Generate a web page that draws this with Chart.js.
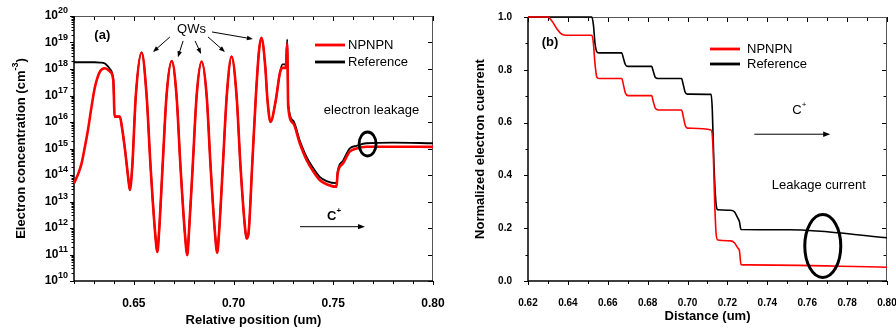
<!DOCTYPE html>
<html>
<head>
<meta charset="utf-8">
<script src="https://cdn.jsdelivr.net/npm/chart.js@4.4.0/dist/chart.umd.min.js"></script>
<style>
  html, body { margin: 0; padding: 0; background: #fff; overflow: hidden; }
  #chartA { position: absolute; left: 0; top: 0; }
  #chartB { position: absolute; left: 450px; top: 0; }
</style>
</head>
<body>
<canvas id="chartA" width="450" height="329"></canvas>
<canvas id="chartB" width="446" height="329"></canvas>
<script>
const seriesNames = ['NPNPN', 'Reference'];

// (a) electron concentration vs relative position
const posA = [0.6200, 0.6222, 0.6238, 0.6255, 0.6270, 0.6288, 0.6305, 0.6330, 0.6355, 0.6380,
  0.6397, 0.6400, 0.6403, 0.6430, 0.6440, 0.6456, 0.6473, 0.6480, 0.6492, 0.6510,
  0.6539, 0.6564, 0.6584, 0.6607, 0.6618, 0.6626, 0.6644, 0.6664, 0.6690, 0.6714,
  0.6734, 0.6756, 0.6768, 0.6776, 0.6795, 0.6815, 0.6840, 0.6865, 0.6885, 0.6907,
  0.6918, 0.6927, 0.6946, 0.6966, 0.6990, 0.7015, 0.7035, 0.7057, 0.7065, 0.7075,
  0.7093, 0.7112, 0.7128, 0.7140, 0.7159, 0.7170, 0.7185, 0.7212, 0.7232, 0.7245,
  0.7262, 0.7269, 0.7274, 0.7299, 0.7332, 0.7366, 0.7400, 0.7432, 0.7466, 0.7516,
  0.7522, 0.7549, 0.7582, 0.7616, 0.7666, 0.7800, 0.8000];
const npnpnA = [4.9e13, 1.15e14, 2.75e14, 1.2e15, 5.0e15, 3.8e16, 2.1e17, 8.0e17, 1.07e18, 8.0e17,
  3.8e17, 1.0e17, 1.6e16, 1.6e16, 6.6e15, 8.7e14, 6.5e13, 2.7e13, 2.0e14, 1.0e17,
  4.2e18, 1.0e17, 2.0e14, 6.3e11, 1.26e11, 6.3e11, 2.0e14, 1.0e17, 2.0e18, 1.0e17,
  2.0e14, 6.3e11, 9.5e10, 6.3e11, 2.0e14, 1.0e17, 1.9e18, 1.0e17, 2.0e14, 6.3e11,
  1.17e11, 6.3e11, 2.0e14, 1.0e17, 2.95e18, 1.0e17, 2.0e14, 1.12e12, 4.0e11, 6.3e11,
  2.0e14, 1.0e17, 5.2e18, 1.5e19, 1.23e18, 6.8e16, 1.0e16, 6.8e16, 6.9e17, 1.1e18,
  1.1e18, 9.3e18, 3.8e16, 8.9e15, 1.58e15, 3.7e14, 1.35e14, 6.5e13, 4.5e13, 3.6e13,
  1.15e14, 2.75e14, 7.6e14, 1.0e15, 1.17e15, 1.17e15, 1.15e15];
const refA = [1.8e18, 1.8e18, 1.8e18, 1.8e18, 1.8e18, 1.8e18, 1.8e18, 1.75e18, 1.6e18, 1.0e18,
  4.0e17, 1.0e17, 1.6e16, 1.6e16, 6.6e15, 8.7e14, 6.5e13, 2.7e13, 2.0e14, 1.0e17,
  4.2e18, 1.0e17, 2.0e14, 6.3e11, 1.26e11, 6.3e11, 2.0e14, 1.0e17, 2.0e18, 1.0e17,
  2.0e14, 6.3e11, 9.5e10, 6.3e11, 2.0e14, 1.0e17, 1.9e18, 1.0e17, 2.0e14, 6.3e11,
  1.17e11, 6.3e11, 2.0e14, 1.0e17, 2.95e18, 1.0e17, 2.0e14, 1.12e12, 4.0e11, 6.3e11,
  2.0e14, 1.0e17, 5.2e18, 1.5e19, 1.23e18, 6.8e16, 1.0e16, 6.8e16, 6.9e17, 1.5e18,
  1.5e18, 1.3e19, 5.0e16, 1.12e16, 2.0e15, 4.8e14, 1.8e14, 8.5e13, 5.9e13, 4.9e13,
  1.4e14, 3.5e14, 1.0e15, 1.26e15, 1.58e15, 1.66e15, 1.58e15];
const expA = [10, 11, 12, 13, 14, 15, 16, 17, 18, 19, 20];

// (b) normalized electron current vs distance
const distRedB = [0.620, 0.630, 0.632, 0.6345, 0.6365, 0.6387, 0.652, 0.6528, 0.6535, 0.6545,
  0.6555, 0.667, 0.6678, 0.6688, 0.6702, 0.682, 0.6828, 0.6838, 0.6854, 0.697,
  0.6978, 0.6988, 0.6999, 0.7118, 0.7128, 0.7136, 0.7143, 0.7152, 0.7215, 0.7235,
  0.7252, 0.7260, 0.7268, 0.730, 0.800];
const npnpnB = [1.0, 1.0, 0.985, 0.955, 0.937, 0.931, 0.931, 0.90, 0.83, 0.772,
  0.767, 0.767, 0.745, 0.712, 0.702, 0.702, 0.68, 0.655, 0.648, 0.648,
  0.625, 0.59, 0.579, 0.572, 0.50, 0.30, 0.18, 0.155, 0.152, 0.145,
  0.125, 0.115, 0.062, 0.061, 0.052];
const distRefB = [0.620, 0.652, 0.6528, 0.6536, 0.6545, 0.6555, 0.667, 0.6678, 0.6688, 0.6699,
  0.682, 0.6828, 0.6838, 0.6852, 0.697, 0.6978, 0.6988, 0.6999, 0.7118, 0.7124,
  0.7132, 0.7142, 0.7152, 0.7215, 0.7235, 0.7252, 0.7260, 0.7268, 0.751, 0.800];
const refB = [1.0, 1.0, 0.97, 0.90, 0.868, 0.864, 0.864, 0.845, 0.82, 0.813,
  0.813, 0.795, 0.772, 0.767, 0.767, 0.745, 0.715, 0.708, 0.707, 0.65,
  0.45, 0.30, 0.27, 0.268, 0.262, 0.238, 0.225, 0.195, 0.194, 0.164];

const FONT = "'Liberation Sans', Arial, sans-serif";
const fnt = (size, bold) => (bold ? 'bold ' : '') + size + 'px ' + FONT;
const pts = (xs, ys) => xs.map((x, i) => ({ x: x, y: ys[i] }));

// draw text pieces one after the other (for superscripts)
function runs(ctx, parts, x, y, align) {
  let w = 0;
  parts.forEach(p => { ctx.font = p[1]; p.w = ctx.measureText(p[0]).width; w += p.w; });
  let cx = align === 'right' ? x - w : align === 'center' ? x - w / 2 : x;
  ctx.textAlign = 'left';
  ctx.textBaseline = 'middle';
  ctx.fillStyle = '#000';
  parts.forEach(p => { ctx.font = p[1]; ctx.fillText(p[0], cx, y - (p[2] || 0)); cx += p.w; });
}

function arrow(ctx, x1, y1, x2, y2, head) {
  const a = Math.atan2(y2 - y1, x2 - x1), c = Math.cos(a), s = Math.sin(a);
  ctx.beginPath();
  ctx.moveTo(x1, y1);
  ctx.lineTo(x2 - c * head * 0.8, y2 - s * head * 0.8);
  ctx.stroke();
  ctx.beginPath();
  ctx.moveTo(x2, y2);
  ctx.lineTo(x2 - head * c + head * 0.38 * s, y2 - head * s - head * 0.38 * c);
  ctx.lineTo(x2 - head * c - head * 0.38 * s, y2 - head * s + head * 0.38 * c);
  ctx.closePath();
  ctx.fill();
}

function frameAndTicks(chart, yTicks) {
  const ctx = chart.ctx, a = chart.chartArea, xs = chart.scales.x, ys = chart.scales.y;
  ctx.save();
  ctx.strokeStyle = '#000';
  ctx.lineWidth = 1;
  ctx.beginPath();
  xs.ticks.forEach(t => {
    const p = Math.round(xs.getPixelForValue(t.value)) + 0.5, len = t.label ? 4 : 3;
    ctx.moveTo(p, a.bottom); ctx.lineTo(p, a.bottom + len);
    ctx.moveTo(p, a.top); ctx.lineTo(p, a.top + len + 1);
  });
  yTicks.forEach(t => {
    const p = Math.round(ys.getPixelForValue(t[0])) + 0.5, len = t[1] ? 4 : 2.5;
    ctx.moveTo(a.left - len, p); ctx.lineTo(a.left, p);
    if (t[1] || t[2]) { ctx.moveTo(a.right - len - 1, p); ctx.lineTo(a.right, p); }
  });
  ctx.stroke();
  ctx.strokeStyle = '#555';
  ctx.beginPath();
  ctx.moveTo(a.left, a.top + 0.5); ctx.lineTo(a.right, a.top + 0.5);
  ctx.moveTo(a.right - 0.5, a.top); ctx.lineTo(a.right - 0.5, a.bottom);
  ctx.stroke();
  ctx.strokeStyle = '#000';
  ctx.lineWidth = 1.5;
  ctx.beginPath();
  ctx.moveTo(a.left, a.top); ctx.lineTo(a.left, a.bottom); ctx.lineTo(a.right, a.bottom);
  ctx.stroke();
  ctx.restore();
}

function legend(chart, dx, dy1, dy2, tx) {
  const ctx = chart.ctx, a = chart.chartArea;
  const rows = [[dy1, chart.data.datasets[0]], [dy2, chart.data.datasets[1]]];
  ctx.save();
  rows.forEach(r => {
    ctx.strokeStyle = r[1].borderColor;
    ctx.lineWidth = 2.8;
    ctx.beginPath();
    ctx.moveTo(a.left + dx, a.top + r[0]); ctx.lineTo(a.left + dx + 30, a.top + r[0]);
    ctx.stroke();
    runs(ctx, [[r[1].label, fnt(13)]], a.left + tx, a.top + r[0] + 0.5, 'left');
  });
  ctx.restore();
}

function ellipse(ctx, x, y, rx, ry, lw) {
  ctx.save();
  ctx.lineWidth = lw;
  ctx.strokeStyle = '#000';
  ctx.beginPath();
  ctx.ellipse(x, y, rx, ry, 0, 0, Math.PI * 2);
  ctx.stroke();
  ctx.restore();
}

const panelA = {
  id: 'panelA',
  beforeDatasetsDraw(chart) {
    const yTicks = [];
    expA.forEach((e, i) => {
      yTicks.push([Math.pow(10, e), true]);
      if (i < expA.length - 1) [2, 3, 4, 5, 6, 7, 8, 9].forEach(m => yTicks.push([m * Math.pow(10, e), false]));
    });
    frameAndTicks(chart, yTicks);
  },
  afterDraw(chart) {
    const ctx = chart.ctx, xs = chart.scales.x, ys = chart.scales.y, a = chart.chartArea;
    const X = v => xs.getPixelForValue(v), Y = v => ys.getPixelForValue(v);
    ctx.save();
    expA.forEach(e => runs(ctx, [['10', fnt(12, true)], [String(e), fnt(9, true), 5]], 68, Y(Math.pow(10, e)), 'right'));
    // y title with superscript
    ctx.save();
    ctx.translate(21, (a.top + a.bottom) / 2);
    ctx.rotate(-Math.PI / 2);
    runs(ctx, [['Electron concentration (cm', fnt(13, true)], ['-3', fnt(9, true), 5], [')', fnt(13, true)]], 0, 0, 'center');
    ctx.restore();

    runs(ctx, [['(a)', fnt(13, true)]], X(0.6302), Y(1.8e19), 'left');
    runs(ctx, [['QWs', fnt(13)]], X(0.6789), Y(3.2e19), 'center');
    ctx.strokeStyle = '#000'; ctx.fillStyle = '#000'; ctx.lineWidth = 1;
    [[0.6681, 1.62e19, 0.6596, 4.4e18], [0.6747, 1.15e19, 0.6721, 2.8e18], [0.6807, 1.15e19, 0.6837, 3.7e18],
     [0.6872, 1.62e19, 0.6957, 4.4e18], [0.6892, 2.5e19, 0.7097, 1.35e19]]
      .forEach(r => arrow(ctx, X(r[0]), Y(r[1]), X(r[2]), Y(r[3]), 6));
    runs(ctx, [['electron leakage', fnt(13)]], X(0.7692), Y(2.8e16), 'center');
    ellipse(ctx, X(0.7672), Y(1.48e15), 8.5, 12, 2.8);
    runs(ctx, [['C', fnt(13, true)], ['+', fnt(8, true), 5]], X(0.7469), Y(2.8e12), 'left');
    ctx.strokeStyle = '#000'; ctx.fillStyle = '#000'; ctx.lineWidth = 1;
    arrow(ctx, X(0.7333), Y(1.12e12), X(0.7659), Y(1.12e12), 7);
    ctx.restore();
    legend(chart, 241, 29, 46, 274);
  }
};

const panelB = {
  id: 'panelB',
  beforeDatasetsDraw(chart) {
    frameAndTicks(chart, chart.scales.y.ticks.map(t => [t.value, !!t.label, true]));
  },
  afterDraw(chart) {
    const ctx = chart.ctx, xs = chart.scales.x, ys = chart.scales.y;
    const X = v => xs.getPixelForValue(v), Y = v => ys.getPixelForValue(v);
    ctx.save();
    runs(ctx, [['(b)', fnt(13, true)]], X(0.631), Y(0.902), 'center');
    runs(ctx, [['C', fnt(13)], ['+', fnt(8), 5]], X(0.7525), Y(0.648), 'left');
    ctx.strokeStyle = '#000'; ctx.fillStyle = '#000'; ctx.lineWidth = 1;
    arrow(ctx, X(0.7335), Y(0.556), X(0.7715), Y(0.556), 7);
    runs(ctx, [['Leakage current', fnt(13)]], X(0.7658), Y(0.3625), 'center');
    ellipse(ctx, X(0.7678), Y(0.1326), 18, 31.5, 3);
    ctx.restore();
    legend(chart, 182, 32, 47, 219);
  }
};

const baseLine = { point: { radius: 0 }, line: { cubicInterpolationMode: 'monotone', borderJoinStyle: 'round' } };

new Chart(document.getElementById('chartA'), {
  type: 'line',
  data: {
    datasets: [
      { label: seriesNames[0], data: pts(posA, npnpnA), borderColor: '#ff0000', borderWidth: 2.6, clip: 3 },
      { label: seriesNames[1], data: pts(posA, refA), borderColor: '#000000', borderWidth: 1.8, clip: 3 }
    ]
  },
  options: {
    responsive: false, animation: false, devicePixelRatio: 1,
    elements: baseLine,
    layout: { padding: { left: 0, right: 17, top: 16, bottom: 0 } },
    plugins: { legend: { display: false }, tooltip: { enabled: false } },
    scales: {
      x: {
        type: 'linear', min: 0.62, max: 0.80,
        grid: { display: false }, border: { display: false },
        ticks: {
          stepSize: 0.01, autoSkip: false, maxRotation: 0, padding: 7, color: '#000',
          font: { family: FONT, size: 12, weight: 'bold' },
          callback: v => Math.round(v * 100) % 5 === 0 ? v.toFixed(2) : ''
        },
        title: { display: true, text: 'Relative position (um)', color: '#000', font: { family: FONT, size: 13, weight: 'bold' }, padding: { top: 0, bottom: 1 } },
        afterFit: s => { s.height = 48; s.paddingLeft = 0; s.paddingRight = 0; }
      },
      y: {
        type: 'logarithmic', min: 1e10, max: 1e20,
        grid: { display: false }, border: { display: false },
        ticks: { display: false },
        afterFit: s => { s.width = 74; s.paddingTop = 0; s.paddingBottom = 0; }
      }
    }
  },
  plugins: [panelA]
});

new Chart(document.getElementById('chartB'), {
  type: 'line',
  data: {
    datasets: [
      { label: seriesNames[0], data: pts(distRedB, npnpnB), borderColor: '#ff0000', borderWidth: 1.6, clip: 3 },
      { label: seriesNames[1], data: pts(distRefB, refB), borderColor: '#000000', borderWidth: 1.6, clip: 3 }
    ]
  },
  options: {
    responsive: false, animation: false, devicePixelRatio: 1,
    elements: baseLine,
    layout: { padding: { left: 0, right: 9, top: 17, bottom: 0 } },
    plugins: { legend: { display: false }, tooltip: { enabled: false } },
    scales: {
      x: {
        type: 'linear', min: 0.62, max: 0.80,
        grid: { display: false }, border: { display: false },
        ticks: {
          stepSize: 0.01, autoSkip: false, maxRotation: 0, padding: 8, color: '#000',
          font: { family: FONT, size: 10, weight: 'bold' },
          callback: v => Math.round(v * 100) % 2 === 0 ? v.toFixed(2) : ''
        },
        title: { display: true, text: 'Distance (um)', color: '#000', font: { family: FONT, size: 13, weight: 'bold' }, padding: { top: 0, bottom: 5 } },
        afterFit: s => { s.height = 48; s.paddingLeft = 0; s.paddingRight = 0; }
      },
      y: {
        min: 0, max: 1,
        grid: { display: false }, border: { display: false },
        ticks: {
          stepSize: 0.1, autoSkip: false, padding: 8, color: '#000',
          font: { family: FONT, size: 10, weight: 'bold' },
          callback: v => Math.round(v * 10) % 2 === 0 ? v.toFixed(1) : ''
        },
        title: { display: true, text: 'Normalized electron cuerrent', color: '#000', font: { family: FONT, size: 13, weight: 'bold' }, padding: { top: 23, bottom: 0 } },
        afterFit: s => { s.width = 78; s.paddingTop = 0; s.paddingBottom = 0; }
      }
    }
  },
  plugins: [panelB]
});
</script>
</body>
</html>
